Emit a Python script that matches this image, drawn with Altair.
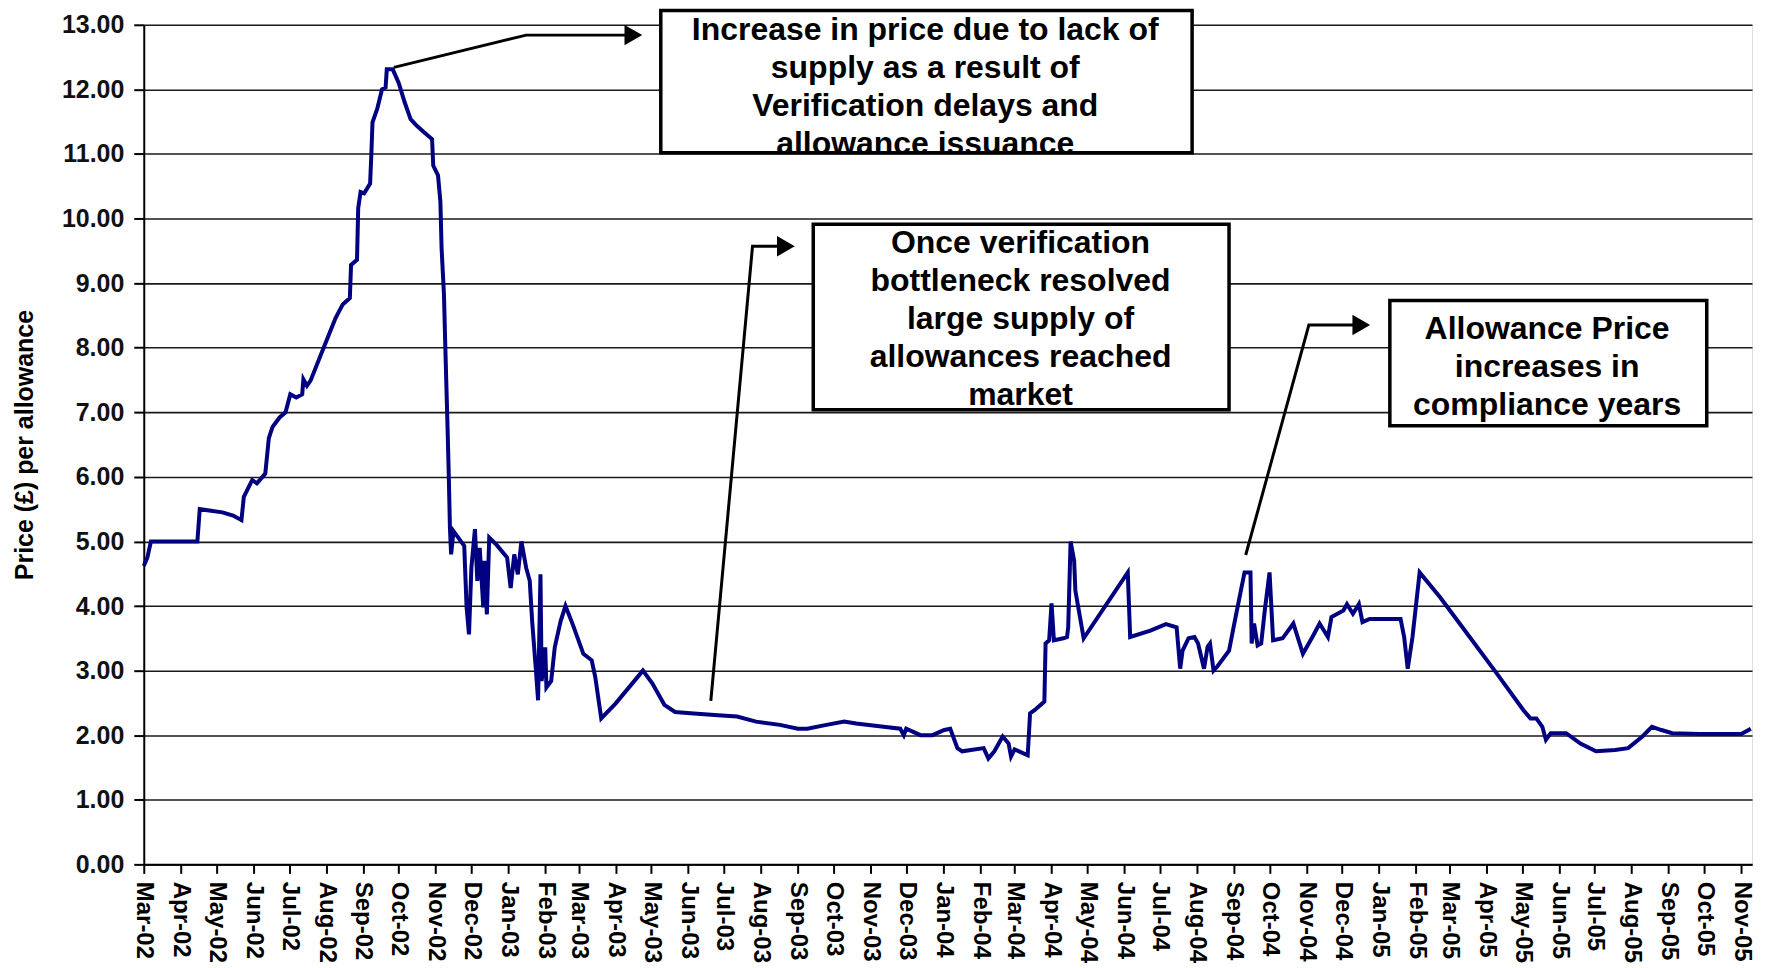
import altair as alt
import pandas as pd

# ---- price series ----
dates = [
    "2002-03-01", "2002-03-04", "2002-03-07", "2002-04-15", "2002-04-17", "2002-05-06",
    "2002-05-15", "2002-05-22", "2002-05-24", "2002-05-31", "2002-06-04", "2002-06-11",
    "2002-06-14", "2002-06-17", "2002-06-23", "2002-06-28", "2002-07-02", "2002-07-07",
    "2002-07-12", "2002-07-13", "2002-07-16", "2002-07-19", "2002-07-30", "2002-08-09",
    "2002-08-15", "2002-08-21", "2002-08-22", "2002-08-27", "2002-08-28", "2002-08-30",
    "2002-09-02", "2002-09-07", "2002-09-08", "2002-09-09", "2002-09-13", "2002-09-17",
    "2002-09-20", "2002-09-21", "2002-09-26", "2002-10-01", "2002-10-06", "2002-10-11",
    "2002-10-16", "2002-10-22", "2002-10-29", "2002-10-30", "2002-11-03", "2002-11-05",
    "2002-11-06", "2002-11-08", "2002-11-09", "2002-11-11", "2002-11-12", "2002-11-13",
    "2002-11-14", "2002-11-16", "2002-11-20", "2002-11-25", "2002-11-27", "2002-11-29",
    "2002-12-01", "2002-12-04", "2002-12-06", "2002-12-08", "2002-12-11", "2002-12-12",
    "2002-12-14", "2002-12-16", "2002-12-22", "2002-12-31", "2003-01-03", "2003-01-06",
    "2003-01-09", "2003-01-12", "2003-01-16", "2003-01-19", "2003-01-21", "2003-01-24",
    "2003-01-26", "2003-01-28", "2003-01-29", "2003-02-01", "2003-02-02", "2003-02-06",
    "2003-02-09", "2003-02-14", "2003-02-18", "2003-02-24", "2003-03-05", "2003-03-12",
    "2003-03-15", "2003-03-20", "2003-04-01", "2003-04-24", "2003-05-02", "2003-05-12",
    "2003-05-21", "2003-06-03", "2003-06-26", "2003-07-12", "2003-07-28", "2003-08-17",
    "2003-09-01", "2003-09-09", "2003-09-25", "2003-10-10", "2003-10-20", "2003-11-12",
    "2003-11-26", "2003-11-29", "2003-12-01", "2003-12-13", "2003-12-23", "2004-01-02",
    "2004-01-07", "2004-01-13", "2004-01-17", "2004-02-04", "2004-02-08", "2004-02-13",
    "2004-02-20", "2004-02-25", "2004-02-27", "2004-03-01", "2004-03-12", "2004-03-14",
    "2004-03-18", "2004-03-26", "2004-03-27", "2004-03-30", "2004-04-01", "2004-04-03",
    "2004-04-11", "2004-04-14", "2004-04-15", "2004-04-17", "2004-04-20", "2004-04-21",
    "2004-04-28", "2004-06-04", "2004-06-06", "2004-06-23", "2004-07-06", "2004-07-15",
    "2004-07-18", "2004-07-20", "2004-07-25", "2004-07-30", "2004-08-02", "2004-08-07",
    "2004-08-10", "2004-08-12", "2004-08-15", "2004-08-18", "2004-08-28", "2004-09-02",
    "2004-09-10", "2004-09-15", "2004-09-16", "2004-09-18", "2004-09-21", "2004-09-24",
    "2004-09-27", "2004-10-01", "2004-10-04", "2004-10-12", "2004-10-21", "2004-10-29",
    "2004-11-06", "2004-11-12", "2004-11-19", "2004-11-22", "2004-12-02", "2004-12-05",
    "2004-12-10", "2004-12-15", "2004-12-18", "2004-12-24", "2005-01-19", "2005-01-22",
    "2005-01-25", "2005-01-29", "2005-02-04", "2005-02-21", "2005-03-18", "2005-04-10",
    "2005-05-02", "2005-05-08", "2005-05-13", "2005-05-18", "2005-05-21", "2005-05-25",
    "2005-06-07", "2005-06-19", "2005-07-02", "2005-07-18", "2005-07-29", "2005-08-10",
    "2005-08-18", "2005-08-26", "2005-09-04", "2005-09-27", "2005-11-01", "2005-11-09",
]
prices = [
    4.62, 4.75, 5.00, 5.00, 5.50, 5.45,
    5.40, 5.33, 5.69, 5.95, 5.90, 6.05,
    6.60, 6.77, 6.92, 7.00, 7.28, 7.23,
    7.28, 7.51, 7.41, 7.49, 8.00, 8.46,
    8.67, 8.77, 9.28, 9.36, 10.16, 10.41,
    10.39, 10.54, 10.98, 11.49, 11.70, 12.00,
    12.03, 12.31, 12.31, 12.10, 11.80, 11.54,
    11.44, 11.34, 11.23, 10.82, 10.67, 10.26,
    9.54, 8.82, 8.10, 6.77, 6.05, 5.21,
    4.80, 5.16, 5.06, 4.93, 3.98, 3.56,
    4.59, 5.19, 4.39, 4.90, 3.98, 4.70,
    3.87, 5.06, 4.95, 4.75, 4.28, 4.80,
    4.49, 5.00, 4.59, 4.39, 3.77, 3.05,
    2.54, 4.49, 2.84, 3.36, 2.74, 2.84,
    3.36, 3.77, 4.00, 3.72, 3.26, 3.16,
    2.90, 2.26, 2.49, 3.00, 2.80, 2.47,
    2.36, 2.34, 2.31, 2.29, 2.21, 2.16,
    2.10, 2.10, 2.16, 2.21, 2.18, 2.13,
    2.10, 2.00, 2.10, 2.00, 2.00, 2.08,
    2.10, 1.80, 1.75, 1.80, 1.64, 1.75,
    1.98, 1.87, 1.67, 1.78, 1.69, 2.34,
    2.39, 2.52, 3.42, 3.47, 4.04, 3.47,
    3.50, 3.52, 3.67, 5.00, 4.70, 4.24,
    3.50, 4.52, 3.52, 3.62, 3.72, 3.67,
    3.03, 3.31, 3.50, 3.52, 3.42, 3.03,
    3.37, 3.42, 3.00, 3.06, 3.31, 3.78,
    4.52, 4.52, 3.42, 3.73, 3.39, 3.42,
    3.93, 4.52, 3.47, 3.50, 3.73, 3.26,
    3.52, 3.73, 3.52, 3.83, 3.93, 4.03,
    3.88, 4.03, 3.75, 3.80, 3.80, 3.52,
    3.03, 3.52, 4.52, 4.14, 3.52, 2.95,
    2.39, 2.26, 2.26, 2.13, 1.93, 2.03,
    2.03, 1.87, 1.75, 1.77, 1.80, 1.98,
    2.13, 2.08, 2.03, 2.02, 2.02, 2.10,
]

# ---- axis ticks ----
y_ticks = [0, 1, 2, 3, 4, 5, 6, 7, 8, 9, 10, 11, 12, 13]
x_domain = ["2002-03-01", "2005-11-10"]
x_label_format = "%b-%y"

# ---- annotations ----
box_x = ["2003-05-09", "2003-09-14", "2005-01-10"]
box_x2 = ["2004-07-28", "2004-08-28", "2005-10-03"]
box_top = [13.22, 9.91, 8.73]
box_bottom = [11.02, 7.04, 6.79]

text_x = ["2003-12-17", "2004-03-06", "2005-05-22"]
text_y = [12.76, 9.46, 8.14]
text_lines = [
    "Increase in price due to lack of\nsupply as a result of\nVerification delays and\nallowance issuance",
    "Once verification\nbottleneck resolved\nlarge supply of\nallowances reached\nmarket",
    "Allowance Price\nincreases in\ncompliance years",
]

arrow_group = [1, 1, 1, 2, 2, 2, 3, 3, 3]
arrow_order = [0, 1, 2, 0, 1, 2, 0, 1, 2]
arrow_x = ["2002-09-27", "2003-01-16", "2003-04-16",
           "2003-06-20", "2003-07-25", "2003-08-22",
           "2004-09-11", "2004-11-03", "2004-12-17"]
arrow_y = [12.34, 12.84, 12.84,
           2.53, 9.57, 9.57,
           4.79, 8.35, 8.35]

FONT = "Liberation Sans"


def dt(s):
    y, m, d = s.split("-")
    return alt.DateTime(year=int(y), month=int(m), date=int(d), utc=True)


price_df = pd.DataFrame({"date": dates, "price": prices})
box_df = pd.DataFrame({"x": box_x, "x2": box_x2, "y": box_top, "y2": box_bottom})
text_df = pd.DataFrame({"x": text_x, "y": text_y, "label": text_lines})
arrow_df = pd.DataFrame({"g": arrow_group, "o": arrow_order, "x": arrow_x, "y": arrow_y})
head_df = arrow_df[arrow_df["o"] == 2]

x_scale = alt.Scale(type="utc", domain=[dt(x_domain[0]), dt(x_domain[1])], nice=False)
y_scale = alt.Scale(domain=[0, 13], nice=False, zero=True)

x_axis = alt.Axis(
    tickCount=alt.TickCount(interval="month", step=1),
    labelExpr="utcFormat(datum.value, '" + x_label_format + "')",
    labelAngle=90, labelAlign="left", labelBaseline="middle",
    labelFont=FONT, labelFontSize=24, labelFontWeight="bold", labelColor="black",
    labelPadding=8, labelOverlap=False, labelBound=False, labelFlush=False,
    tickColor="black", tickSize=9, tickWidth=2,
    domainColor="black", domainWidth=2, grid=False, title=None,
)
y_axis = alt.Axis(
    values=y_ticks, format=".2f",
    labelFont=FONT, labelFontSize=25, labelFontWeight="bold", labelColor="#111",
    labelPadding=10, tickColor="black", tickSize=10, tickWidth=2,
    domainColor="black", domainWidth=2,
    grid=True, gridColor="#1a1a1a", gridWidth=1.6,
    title="Price (£) per allowance", titleFont=FONT, titleFontSize=25,
    titleFontWeight="bold", titleColor="black", titlePadding=24,
)

line = alt.Chart(price_df).mark_line(color="#000080", strokeWidth=4).encode(
    x=alt.X("date:T", scale=x_scale, axis=x_axis),
    y=alt.Y("price:Q", scale=y_scale, axis=y_axis),
)

arrows = alt.Chart(arrow_df).mark_line(color="black", strokeWidth=3).encode(
    x="x:T", y="y:Q", detail="g:N", order="o:Q",
)
heads = alt.Chart(head_df).mark_point(
    shape="triangle-right", filled=True, color="black", size=420, opacity=1
).encode(x="x:T", y="y:Q")

boxes = alt.Chart(box_df).mark_rect(fill="white", stroke="black", strokeWidth=3.5).encode(
    x="x:T", x2="x2:T", y="y:Q", y2="y2:Q",
)
texts = alt.Chart(text_df).mark_text(
    font=FONT, fontSize=32, fontWeight="bold", color="black",
    lineBreak="\n", lineHeight=38, align="center", baseline="alphabetic",
).encode(x="x:T", y="y:Q", text="label:N")

chart = alt.layer(line, arrows, heads, boxes, texts).properties(
    width=1611, height=841,
    autosize=alt.AutoSizeParams(type="none"),
    padding={"left": 136, "top": 16, "right": 6, "bottom": 100},
).configure_view(stroke="#8c8c8c", strokeWidth=2).configure(background="white")

chart.save("out.html", embed_options={"renderer": "svg", "actions": False})
